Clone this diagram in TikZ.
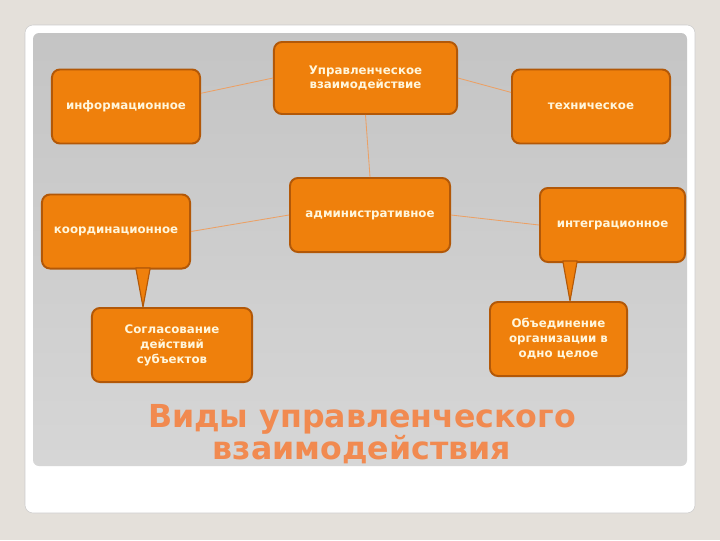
\documentclass[tikz,border=0pt]{standalone}
\usepackage{fontspec}
\setmainfont{DejaVu Sans}
\usepackage{tikz}
\usetikzlibrary{positioning}
\definecolor{pagebg}{RGB}{228,224,218}
\definecolor{boxfill}{RGB}{239,128,12}
\definecolor{boxline}{RGB}{178,88,8}
\definecolor{boxtext}{RGB}{255,246,220}
\definecolor{linkcol}{RGB}{236,160,100}
\definecolor{titlecol}{RGB}{241,138,80}
\tikzset{
	x=0.025cm, y=-0.025cm,
	box/.style={draw=boxline, fill=boxfill, line width=1.4pt, rounded corners=0.2cm,
		minimum height=1.85cm, text=boxtext, align=center, inner sep=2pt,
		font=\fontsize{8.4}{10.6}\selectfont\bfseries},
	link/.style={draw=linkcol, line width=0.6pt},
	wedge/.style={draw=boxline, fill=boxfill, line width=0.8pt, line join=round}
}

\begin{document}
\begin{tikzpicture}
\useasboundingbox (0,0) rectangle (720,540);
\fill[pagebg] (0,0) rectangle (720,540);
\filldraw[fill=white, draw=black!20, rounded corners=0.2cm] (25,25) rectangle (695,513);
\shade[top color=black!23, bottom color=black!16, rounded corners=0.15cm] (33,33) rectangle (687,466);
\node (upr) [box, minimum width=4.575cm, minimum height=1.8cm] at (365.5,78) {Управленческое\\взаимодействие};
\node (info) [box, minimum width=3.7cm] at (126,106.5) {информационное};
\node (tech) [box, minimum width=3.95cm] at (591,106.5) {техническое};
\node (adm) [box, minimum width=4cm] at (370,215) {административное};
\node (coord) [box, minimum width=3.7cm] at (116,231.5) {координационное};
\node (integ) [box, minimum width=3.625cm] at (612.5,225) {интеграционное};
\node (sogl) [box, minimum width=4cm] at (172,345) {Согласование\\действий\\субъектов};
\node (obed) [box, minimum width=3.425cm] at (558.5,339) {Объединение\\организации в\\одно целое};
\draw[link] (upr.west) -- (info.10);
\draw[link] (upr.east) -- (tech.170);
\draw[link] (upr.south) -- (adm.north);
\draw[link] (adm.west) -- (coord.east);
\draw[link] (adm.east) -- (integ.west);
% клинья к подписям
\coordinate (k1) at (143,268);
\coordinate (k2) at (570,261);
\draw[wedge] ([xshift=-0.18cm]k1) -- ([xshift=0.18cm]k1) -- (k1 |- sogl.north) -- cycle;
\draw[wedge] ([xshift=-0.18cm]k2) -- ([xshift=0.18cm]k2) -- (k2 |- obed.north) -- cycle;
\node (title) [text=titlecol, align=center, font=\fontsize{22.5}{23}\selectfont\bfseries] at (362,434) {Виды управленческого\\взаимодействия};
\end{tikzpicture}
\end{document}
